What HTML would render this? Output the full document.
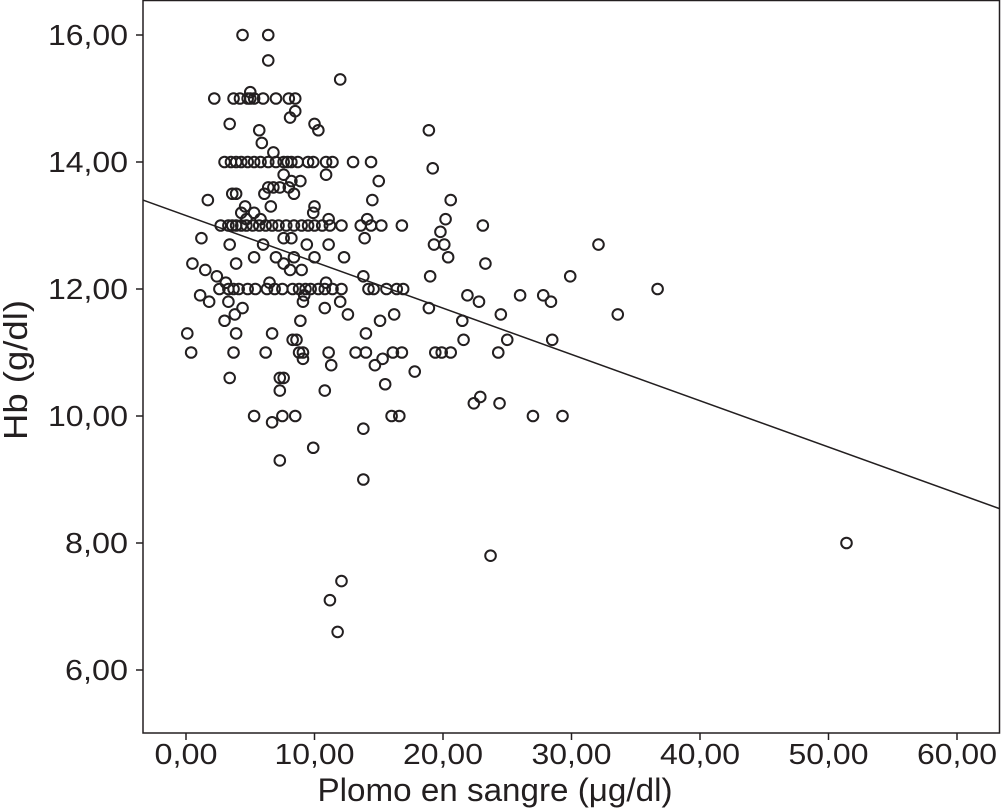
<!DOCTYPE html>
<html><head><meta charset="utf-8"><style>
html,body{margin:0;padding:0;background:#fff}
svg{display:block}
text{font-family:"Liberation Sans",Arial,sans-serif;fill:#231f20}
</style></head><body>
<svg id="chart" width="1001" height="808" viewBox="0 0 1001 808" xmlns="http://www.w3.org/2000/svg">
<rect x="143" y="0.5" width="856.5" height="732.5" fill="none" stroke="#231f20" stroke-width="1.5"/>
<g id="ticks"></g>
<g id="points"></g>
<line id="fit" stroke="#231f20" stroke-width="1.5"/>
<text transform="translate(27,370) rotate(-90)" text-anchor="middle" font-size="33" textLength="140" lengthAdjust="spacingAndGlyphs">Hb (g/dl)</text>
<text x="495" y="801" text-anchor="middle" font-size="32" textLength="355" lengthAdjust="spacingAndGlyphs">Plomo en sangre (μg/dl)</text>
</svg>
<script>
const xTicks=[0,10,20,30,40,50,60];
const yTicks=[6,8,10,12,14,16];
const lead=[4.4,6.4,6.4,12.0,2.2,3.7,4.2,4.8,5.0,5.3,6.0,7.0,8.0,8.5,5.0,8.5,8.1,3.4,10.0,5.7,10.3,18.9,5.9,6.8,
3,3.5,3.9,4.3,4.8,5.3,5.8,6.4,7.0,7.6,7.9,8.2,8.7,9.5,9.9,10.9,11.4,13.0,14.4,
19.2,7.6,10.9,8.2,8.9,15.0,6.4,6.8,7.3,8.0,3.6,3.9,6.1,8.4,1.7,14.5,20.6,4.6,6.6,10.0,4.3,5.3,9.9,4.7,5.8,11.1,14.1,20.2,
2.7,3.3,3.6,3.9,4.3,4.7,5.2,5.7,6.2,6.7,7.2,7.8,8.4,9.0,9.5,10.0,10.6,11.2,12.1,13.6,14.4,15.2,16.8,23.1,
19.8,1.2,8.2,13.9,7.6,3.4,6.0,11.1,19.3,20.1,32.1,9.4,7.0,8.4,10.0,12.3,20.4,5.3,0.5,3.9,7.6,23.3,1.5,8.1,9.0,2.4,19.0,29.9,13.8,3.1,6.5,10.9,
2.6,3.3,3.7,4.1,4.8,5.4,6.3,6.9,7.5,8.3,8.8,9.3,9.7,10.3,10.8,11.4,12.1,14.2,14.6,15.6,16.4,16.9,36.7,
1.1,9.2,21.9,26.0,27.8,1.8,3.3,9.1,12.0,22.8,28.4,4.4,10.8,18.9,3.8,12.6,16.2,24.5,33.6,3.0,8.9,15.1,21.5,0.1,3.9,6.7,14.0,8.3,8.6,21.6,25.0,28.5,
0.4,3.7,6.2,8.8,9.1,11.1,13.2,14.0,16.1,16.8,19.4,19.9,20.6,24.3,9.1,15.3,11.3,14.7,17.8,3.4,7.3,7.6,15.5,7.3,10.8,22.4,24.4,22.9,
5.3,7.5,8.5,16.0,16.6,27.0,29.3,6.7,13.8,9.9,7.3,13.8,51.4,23.7,12.1,11.2,11.8];
const hb=[16,16,15.6,15.3,15,15,15,15,15,15,15,15,15,15,15.1,14.8,14.7,14.6,14.6,14.5,14.5,14.5,14.3,14.15,
14,14,14,14,14,14,14,14,14,14,14,14,14,14,14,14,14,14,14,
13.9,13.8,13.8,13.7,13.7,13.7,13.6,13.6,13.6,13.6,13.5,13.5,13.5,13.5,13.4,13.4,13.4,13.3,13.3,13.3,13.2,13.2,13.2,13.1,13.1,13.1,13.1,13.1,
13,13,13,13,13,13,13,13,13,13,13,13,13,13,13,13,13,13,13,13,13,13,13,13,
12.9,12.8,12.8,12.8,12.8,12.7,12.7,12.7,12.7,12.7,12.7,12.7,12.5,12.5,12.5,12.5,12.5,12.5,12.4,12.4,12.4,12.4,12.3,12.3,12.3,12.2,12.2,12.2,12.2,12.1,12.1,12.1,
12,12,12,12,12,12,12,12,12,12,12,12,12,12,12,12,12,12,12,12,12,12,12,
11.9,11.9,11.9,11.9,11.9,11.8,11.8,11.8,11.8,11.8,11.8,11.7,11.7,11.7,11.6,11.6,11.6,11.6,11.6,11.5,11.5,11.5,11.5,11.3,11.3,11.3,11.3,11.2,11.2,11.2,11.2,11.2,
11,11,11,11,11,11,11,11,11,11,11,11,11,11,10.9,10.9,10.8,10.8,10.7,10.6,10.6,10.6,10.5,10.4,10.4,10.2,10.2,10.3,
10,10,10,10,10,10,10,9.9,9.8,9.5,9.3,9,8,7.8,7.4,7.1,6.6];
const fitIntercept=13.156, fitSlope=-0.0729;
const xs=v=>186+v*12.85, ys=v=>35+(16-v)*63.5;
const NS='http://www.w3.org/2000/svg';
function mk(t,a,p){const e=document.createElementNS(NS,t);for(const k in a)e.setAttribute(k,a[k]);p.appendChild(e);return e;}
const tk=document.getElementById('ticks');
xTicks.forEach(v=>{
 const l=mk('line',{x1:xs(v),x2:xs(v),y1:733,y2:740,stroke:'#231f20','stroke-width':1.5},tk);
 
 
 const t=mk('text',{x:xs(v),y:764,'text-anchor':'middle','font-size':29,textLength:v>=10?80:63,lengthAdjust:'spacingAndGlyphs'},tk);
 
 
 t.textContent=v.toFixed(2).replace('.',',');
});
yTicks.forEach(v=>{
 const t=mk('text',{x:128,y:ys(v)+10,'text-anchor':'end','font-size':29,textLength:v>=10?80:63,lengthAdjust:'spacingAndGlyphs'},tk);
 
 
 t.textContent=v.toFixed(2).replace('.',',');
 const l=mk('line',{x1:136,x2:143,y1:ys(v),y2:ys(v),stroke:'#231f20','stroke-width':1.5},tk);
 
 
});
const pg=document.getElementById('points');
for(let i=0;i<lead.length;i++){
 const c=mk('circle',{cx:xs(lead[i]),cy:ys(hb[i]),r:5.3,fill:'none',stroke:'#231f20','stroke-width':2},pg);
 
 
}
const x0=-3.35,x1=63.3,f=document.getElementById('fit');
f.setAttribute('x1',xs(x0));f.setAttribute('y1',ys(fitIntercept+fitSlope*x0));
f.setAttribute('x2',xs(x1));f.setAttribute('y2',ys(fitIntercept+fitSlope*x1));
</script>
</body></html>
